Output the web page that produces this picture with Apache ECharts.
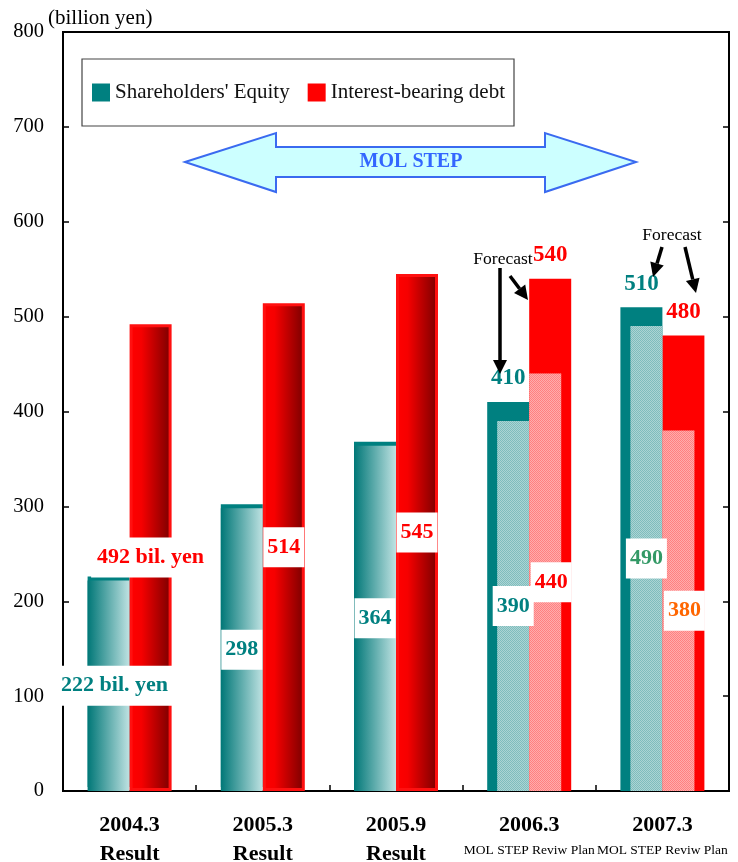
<!DOCTYPE html>
<html>
<head>
<meta charset="utf-8">
<script src="https://cdn.jsdelivr.net/npm/echarts@6/dist/echarts.min.js"></script>
<style>
  html, body { margin: 0; padding: 0; background: #fff; }
  #chart { width: 738px; height: 862px; }
</style>
</head>
<body>
<div id="chart"></div>
<script>
// Fiscal periods and their status line under each period
const categories = ['2004.3', '2005.3', '2005.9', '2006.3', '2007.3'];
const periodNotes = ['Result', 'Result', 'Result', 'MOL STEP Reviw Plan', 'MOL STEP Reviw Plan'];

// Billion yen
const equity = [222, 298, 364, 410, 510];          // results / revised forecast
const debt = [492, 514, 545, 540, 480];
const equityPlan = [null, null, null, 390, 490];   // original MOL STEP plan
const debtPlan = [null, null, null, 440, 380];

const yMin = 0, yMax = 800, yStep = 100;

const SERIF = '"Liberation Serif", "Times New Roman", serif';
const TEAL = '#008080';
const RED = '#ff0000';

const chart = echarts.init(document.getElementById('chart'), null, { renderer: 'canvas' });

const tealGradient = new echarts.graphic.LinearGradient(0, 0, 1, 0, [
  { offset: 0, color: '#007777' },
  { offset: 1, color: '#bfe2e2' }
]);
const redGradient = new echarts.graphic.LinearGradient(0, 0, 1, 0, [
  { offset: 0, color: '#ff0000' },
  { offset: 0.28, color: '#f60000' },
  { offset: 1, color: '#780000' }
]);

const boxLabel = (color, extra) => Object.assign({
  show: true,
  position: 'inside',
  color: color,
  fontFamily: SERIF,
  fontWeight: 'bold',
  fontSize: 22,
  lineHeight: 22,
  backgroundColor: '#ffffff',
  padding: [9, 4, 9, 4]
}, extra || {});

const topLabel = (color) => ({
  show: true,
  position: 'top',
  distance: 12,
  color: color,
  fontFamily: SERIF,
  fontWeight: 'bold',
  fontSize: 23
});

const equityData = equity.map((v, i) => {
  if (i < 3) {
    return {
      value: v,
      itemStyle: {
        color: tealGradient,
        shadowColor: TEAL, shadowBlur: 0, shadowOffsetX: 0, shadowOffsetY: -4
      },
      label: boxLabel(TEAL, i === 0
        ? { formatter: '{c} bil. yen', offset: [6, 0] }
        : {})
    };
  }
  return { value: v, itemStyle: { color: TEAL }, label: topLabel(TEAL) };
});

const debtData = debt.map((v, i) => {
  if (i < 3) {
    return {
      value: v,
      itemStyle: { color: redGradient, borderColor: '#ff1010', borderWidth: 3 },
      label: boxLabel(RED, i === 0 ? { formatter: '{c} bil. yen', padding: [9, 6, 9, 6] } : {})
    };
  }
  return { value: v, itemStyle: { color: RED }, label: topLabel(RED) };
});

const planLabelColors = { equity: [null, null, null, TEAL, '#339966'], debt: [null, null, null, RED, '#ff6600'] };

const equityPlanData = equityPlan.map((v, i) => v == null ? null : {
  value: v,
  label: boxLabel(planLabelColors.equity[i])
});
const debtPlanData = debtPlan.map((v, i) => v == null ? null : {
  value: v,
  label: boxLabel(planLabelColors.debt[i], { offset: [6, 0] })
});

const checker = (c) => ({
  symbol: 'rect',
  symbolSize: 1,
  color: c,
  dashArrayX: [[1, 1], [0, 1, 1, 0]],
  dashArrayY: [1, 0]
});

// arrow built as a shaft line plus a filled head
function arrow(x1, y1, x2, y2) {
  const dx = x2 - x1, dy = y2 - y1;
  const len = Math.sqrt(dx * dx + dy * dy);
  const ux = dx / len, uy = dy / len;
  const headL = 14, headW = 7;
  const bx = x2 - ux * headL, by = y2 - uy * headL;
  return [
    { type: 'line', z: 100, shape: { x1: x1, y1: y1, x2: bx, y2: by },
      style: { stroke: '#000', lineWidth: 3.5 } },
    { type: 'polygon', z: 100,
      shape: { points: [[x2, y2], [bx - uy * headW, by + ux * headW], [bx + uy * headW, by - ux * headW]] },
      style: { fill: '#000' } }
  ];
}

const textEl = (text, x, y, font, fill, align) => ({
  type: 'text', z: 100, x: x, y: y,
  style: { text: text, font: font, fill: fill, align: align || 'center', verticalAlign: 'middle' }
});

const graphics = [
  // MOL STEP period banner
  {
    type: 'polygon', z: 50,
    shape: { points: [[185, 162], [276, 133], [276, 147], [545, 147], [545, 133], [636, 162],
                      [545, 192], [545, 177], [276, 177], [276, 192]] },
    style: { fill: '#ccffff', stroke: '#3a6af0', lineWidth: 2 }
  },
  textEl('MOL STEP', 411, 162, 'bold 20px ' + SERIF, '#3366ff'),
  textEl('(billion yen)', 48, 18, '21px ' + SERIF, '#000', 'left'),
  textEl('Forecast', 503, 259, '17.5px ' + SERIF, '#000'),
  textEl('Forecast', 672, 235, '17.5px ' + SERIF, '#000')
]
  .concat(arrow(500, 268, 500, 374))
  .concat(arrow(510, 276, 528, 300))
  .concat(arrow(662, 247, 653, 277))
  .concat(arrow(685, 247, 696, 293));

const option = {
  animation: false,
  backgroundColor: '#ffffff',
  grid: {
    left: 63, right: 9, top: 32, bottom: 71,
    containLabel: false,
    outerBoundsMode: 'none',
    show: true, borderColor: '#000', borderWidth: 2, backgroundColor: 'transparent'
  },
  legend: {
    data: ["Shareholders' Equity", 'Interest-bearing debt'],
    left: 82, top: 59,
    orient: 'horizontal',
    icon: 'rect',
    itemWidth: 18, itemHeight: 18, itemGap: 18,
    padding: [23, 9, 23, 10],
    borderColor: '#444', borderWidth: 1.2,
    backgroundColor: '#fff',
    textStyle: { fontFamily: SERIF, fontSize: 21, color: '#111' },
    z: 60
  },
  xAxis: [
    {
      type: 'category',
      data: categories,
      axisLine: { lineStyle: { color: '#000', width: 2 } },
      axisTick: { show: true, inside: true, length: 6, lineStyle: { color: '#000', width: 1.5 } },
      axisLabel: {
        interval: 0,
        margin: 20,
        formatter: (value, idx) => {
          const note = periodNotes[idx];
          return '{y|' + value + '}\n' + (note === 'Result' ? '{r|' + note + '}' : '{p|' + note + '}');
        },
        rich: {
          y: { fontFamily: SERIF, fontWeight: 'bold', fontSize: 22, lineHeight: 29, color: '#000' },
          r: { fontFamily: SERIF, fontWeight: 'bold', fontSize: 22, lineHeight: 29, color: '#000' },
          p: { fontFamily: SERIF, fontSize: 13.5, lineHeight: 21, color: '#000' }
        }
      }
    },
    { type: 'category', data: categories, show: false }
  ],
  yAxis: [
    {
      type: 'value', min: yMin, max: yMax, interval: yStep,
      splitLine: { show: false },
      axisLine: { show: true, lineStyle: { color: '#000', width: 2 } },
      axisTick: { show: true, inside: true, length: 6, lineStyle: { color: '#000', width: 1.5 } },
      axisLabel: { margin: 19, fontFamily: SERIF, fontSize: 20.5, color: '#000' }
    },
    {
      type: 'value', position: 'right', min: yMin, max: yMax, interval: yStep,
      splitLine: { show: false },
      axisLine: { show: true, lineStyle: { color: '#000', width: 2 } },
      axisTick: { show: true, inside: true, length: 6, lineStyle: { color: '#000', width: 1.5 } },
      axisLabel: { show: false }
    }
  ],
  series: [
    {
      name: "Shareholders' Equity", type: 'bar', xAxisIndex: 0,
      barWidth: 42, barGap: '0%',
      itemStyle: { color: TEAL },
      data: equityData, z: 2
    },
    {
      name: 'Interest-bearing debt', type: 'bar', xAxisIndex: 0,
      barWidth: 42, barGap: '0%',
      itemStyle: { color: RED },
      data: debtData, z: 2
    },
    {
      name: 'Equity (plan)', type: 'bar', xAxisIndex: 1,
      barWidth: 32, barGap: '0%',
      itemStyle: { color: '#7fbdbd', decal: checker('rgba(255,255,255,0.35)') },
      data: equityPlanData, z: 3
    },
    {
      name: 'Debt (plan)', type: 'bar', xAxisIndex: 1,
      barWidth: 32, barGap: '0%',
      itemStyle: { color: '#ff8080', decal: checker('rgba(255,255,255,0.35)') },
      data: debtPlanData, z: 3
    }
  ],
  graphic: graphics
};

chart.setOption(option);
</script>
</body>
</html>
